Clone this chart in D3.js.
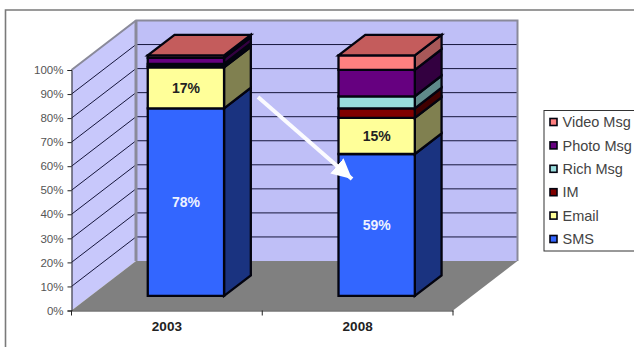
<!DOCTYPE html>
<html>
<head>
<meta charset="utf-8">
<script src="https://cdnjs.cloudflare.com/ajax/libs/d3/7.8.5/d3.min.js"></script>
<style>
html,body{margin:0;padding:0;background:#fff;}
svg{display:block;font-family:"Liberation Sans",Arial,sans-serif;}
</style>
</head>
<body>
<svg id="c" width="634" height="347"></svg>
<script>
const years = ["2003", "2008"];
const seriesNames = ["SMS", "Email", "IM", "Rich Msg", "Photo Msg", "Video Msg"];
const sms = [78, 59];
const email = [17, 15];
const im = [0.5, 4];
const richMsg = [1, 5];
const photoMsg = [2.5, 11];
const videoMsg = [1, 6];
const labelledSeries = ["SMS", "Email"];
const yTicks = [0, 10, 20, 30, 40, 50, 60, 70, 80, 90, 100];

const front = {SMS:"#3366ff", Email:"#ffff99", IM:"#800000", "Rich Msg":"#99dddd", "Photo Msg":"#660080", "Video Msg":"#ff8080"};
const side  = {SMS:"#1a3380", Email:"#808050", IM:"#400000", "Rich Msg":"#5f8a8a", "Photo Msg":"#330040", "Video Msg":"#a85858"};
const topFace = "#c45c5c";
const ink = "#03030f";

const svg = d3.select("#c");
const table = years.map((y,i)=>({year:y, SMS:sms[i], Email:email[i], IM:im[i], "Rich Msg":richMsg[i], "Photo Msg":photoMsg[i], "Video Msg":videoMsg[i]}));
const stack = d3.stack().keys(seriesNames)(table);

const y = d3.scaleLinear().domain([0,100]).range([310.5,70]);
const x = d3.scaleBand().domain(years).range([71.5,453]);
const depthX = 64.5, depthY = -49.5;
const barFront = 0.295, barBack = 0.71;
const barW = x.bandwidth()*0.4;
const px = (xv,d)=>xv+depthX*d;
const py = (v,d)=>y(v)+depthY*d;
const poly = pts=>pts.map(p=>p.join(",")).join(" ");

// outer frame
svg.append("path").attr("d","M5.5,347V10H634").attr("fill","none").attr("stroke","#7a7a7a").attr("stroke-width",1.6);

const xL = x.range()[0], xR = x.range()[1];
// back wall
svg.append("polygon").attr("points",poly([[px(xL,1),py(100,1)],[px(xR,1),py(100,1)],[px(xR,1),py(0,1)],[px(xL,1),py(0,1)]])).attr("fill","#bfbff7");
// side wall
svg.append("polygon").attr("points",poly([[px(xL,0),y(100)],[px(xL,1),py(100,1)],[px(xL,1),py(0,1)],[px(xL,0),y(0)]])).attr("fill","#c8c8fb");
// floor
svg.append("polygon").attr("points",poly([[xL,y(0)],[xR,y(0)],[px(xR,1),py(0,1)],[px(xL,1),py(0,1)]])).attr("fill","#808080");
// gridlines
yTicks.filter(t=>t>0&&t<100).forEach(t=>{
  svg.append("path").attr("d",`M${xL},${y(t)}L${px(xL,1)},${py(t,1)}H${px(xR,1)}`).attr("fill","none").attr("stroke","#16163c").attr("stroke-width",1);
});
// wall edges
svg.append("path").attr("d",`M${xL},${y(100)}L${px(xL,1)},${py(100,1)}H${px(xR,1)}V${py(0,1)}`).attr("fill","none").attr("stroke","#8a8a9a").attr("stroke-width",2);
svg.append("line").attr("x1",px(xL,1)).attr("x2",px(xL,1)).attr("y1",py(100,1)).attr("y2",py(0,1)).attr("stroke","#8a8a9a").attr("stroke-width",3);

// bars
years.forEach((yr,i)=>{
  const x0 = x(yr)+x.bandwidth()/2-barW/2;
  const xa = px(x0,barFront), xb = xa+barW, xc = xb+depthX*(barBack-barFront);
  const g = svg.append("g").attr("stroke",ink).attr("stroke-width",2.3).attr("stroke-linejoin","miter");
  stack.forEach(s=>{
    const d=s[i];
    g.append("polygon").attr("points",poly([[xb,py(d[0],barFront)],[xc,py(d[0],barBack)],[xc,py(d[1],barBack)],[xb,py(d[1],barFront)]])).attr("fill",side[s.key]);
    g.append("polygon").attr("points",poly([[xa,py(d[0],barFront)],[xb,py(d[0],barFront)],[xb,py(d[1],barFront)],[xa,py(d[1],barFront)]])).attr("fill",front[s.key]);
  });
  const topV = stack[stack.length-1][i][1];
  g.append("polygon").attr("points",poly([[xa,py(topV,barFront)],[xb,py(topV,barFront)],[xc,py(topV,barBack)],[xa+xc-xb,py(topV,barBack)]])).attr("fill",topFace);
  stack.filter(s=>labelledSeries.includes(s.key)).forEach(s=>{
    const d=s[i];
    svg.append("text").attr("x",(xa+xb)/2).attr("y",py((d[0]+d[1])/2,barFront)).attr("dy","0.36em")
      .attr("text-anchor","middle").attr("font-weight","bold").attr("font-size",14)
      .attr("fill",s.key==="SMS"?"#eef2ff":"#222").text(d.data[s.key]+"%");
  });
});

// axes
const axisY = d3.axisLeft(y).tickValues(yTicks).tickFormat(d=>d+"%").tickSize(4).tickPadding(4);
const gy = svg.append("g").attr("transform",`translate(${xL},0)`).call(axisY);
gy.selectAll("text").attr("font-size",11.5).attr("font-family","'Liberation Sans',Arial,sans-serif").attr("fill","#555");
gy.selectAll("line,path").attr("stroke","#222");
const axisX = d3.axisBottom(x).tickSizeInner(0).tickSizeOuter(0).tickPadding(11);
const gx = svg.append("g").attr("transform",`translate(0,${y(0)})`).call(axisX);
gx.selectAll("text").attr("font-size",13.5).attr("font-weight","bold").attr("font-family","'Liberation Sans',Arial,sans-serif").attr("fill","#222");
gx.selectAll("path").attr("stroke","#333");
[xL, x("2008"), xR].forEach(t=>svg.append("line").attr("x1",t).attr("x2",t).attr("y1",y(0)).attr("y2",y(0)+5).attr("stroke","#222"));

// arrow annotation
svg.append("defs").append("marker").attr("id","ah").attr("markerUnits","userSpaceOnUse").attr("markerWidth",22).attr("markerHeight",20)
  .attr("refX",20).attr("refY",10).attr("orient","auto").append("path").attr("d","M0,0L20,10L0,20Z").attr("fill","#fff");
svg.append("line").attr("x1",258).attr("y1",97).attr("x2",352).attr("y2",179).attr("stroke","#fbfbff").attr("stroke-width",4).attr("marker-end","url(#ah)");

// legend
const lg = svg.append("g");
lg.append("rect").attr("x",544).attr("y",110.5).attr("width",100).attr("height",140.5).attr("fill","#fff").attr("stroke","#333").attr("stroke-width",1);
const legendY = d3.scalePoint().domain(seriesNames.slice().reverse()).range([122,239]);
seriesNames.forEach(n=>{
  lg.append("rect").attr("x",550).attr("y",legendY(n)-3.5).attr("width",7).attr("height",7).attr("fill",front[n]).attr("stroke",ink).attr("stroke-width",1.6);
  lg.append("text").attr("x",562.5).attr("y",legendY(n)).attr("dy","0.36em").attr("font-size",14.5).attr("fill","#444").text(n);
});
</script>
</body>
</html>
